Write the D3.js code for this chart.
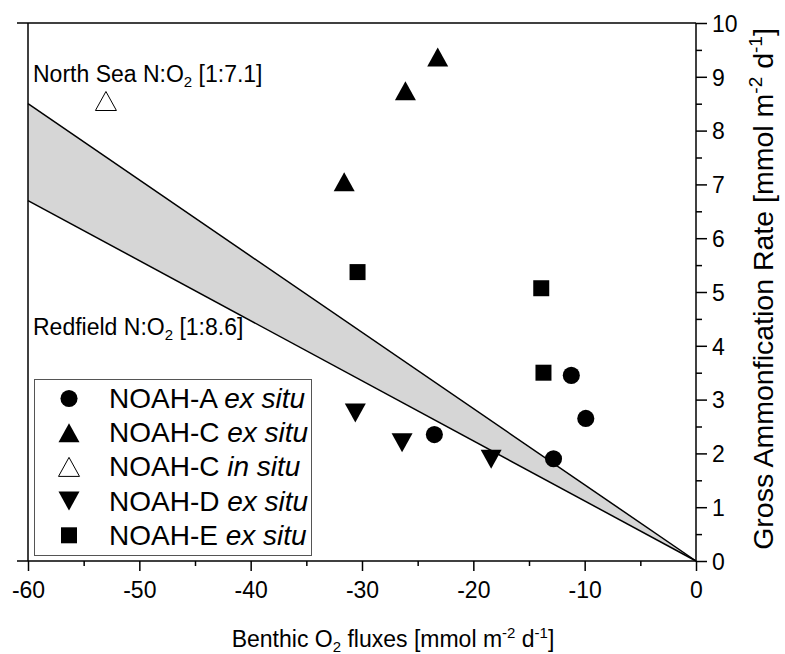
<!DOCTYPE html>
<html>
<head>
<meta charset="utf-8">
<script src="https://d3js.org/d3.v7.min.js"></script>
<style>
  body { margin: 0; background: #fff; }
  svg { display: block; font-family: "Liberation Sans", Arial, sans-serif; }
  .tick text { font-size: 23px; fill: #000; }
</style>
</head>
<body>
<script>
// x: benthic O2 flux, y: gross ammonification rate
var noahA_x = [-23.5, -12.8, -11.2, -9.9];
var noahA_y = [2.35, 1.9, 3.45, 2.65];
var noahCex_x = [-31.6, -26.1, -23.2];
var noahCex_y = [7.05, 8.74, 9.37];
var noahCin_x = [-53.0];
var noahCin_y = [8.55];
var noahD_x = [-30.6, -26.4, -18.4];
var noahD_y = [2.75, 2.2, 1.89];
var noahE_x = [-30.4, -13.9, -13.7];
var noahE_y = [5.37, 5.07, 3.5];

// ratio lines from origin to x = -60
var bandX = [-60, 0];
var northSeaY = [8.5, 0];
var redfieldY = [6.7, 0];

var xTicks = [-60, -50, -40, -30, -20, -10, 0];
var yTicks = [0, 1, 2, 3, 4, 5, 6, 7, 8, 9, 10];

var legendNames = ["NOAH-A", "NOAH-C", "NOAH-C", "NOAH-D", "NOAH-E"];
var legendQual = ["ex situ", "ex situ", "in situ", "ex situ", "ex situ"];
var legendShapes = ["circle", "up", "upOpen", "down", "square"];

(function() {
var W = 785, H = 654;
var pl = 28, pr = 696, pt = 23, pb = 561;

var svg = d3.select("body").append("svg").attr("width", W).attr("height", H);

var x = d3.scaleLinear().domain([-60, 0]).range([pl, pr]);
var y = d3.scaleLinear().domain([0, 10]).range([pb, pt]);

// shaded band between the two ratio lines
var upper = bandX.map(function(v, i) { return [v, northSeaY[i]]; });
var lower = bandX.map(function(v, i) { return [v, redfieldY[i]]; });
var line = d3.line().x(function(p) { return x(p[0]); }).y(function(p) { return y(p[1]); });
svg.append("path")
  .attr("d", line(upper.concat(lower.slice().reverse())) + "Z")
  .attr("fill", "#d6d6d6");
[upper, lower].forEach(function(pts) {
  svg.append("path").attr("d", line(pts)).attr("fill", "none")
    .attr("stroke", "#000").attr("stroke-width", 1.5);
});

// axes
var xAxis = svg.append("g").attr("transform", "translate(0," + pb + ")")
  .call(d3.axisBottom(x).tickValues(xTicks).tickSize(10).tickSizeOuter(0).tickPadding(6)
    .tickFormat(function(d) { return String(d); }));
svg.append("g").attr("transform", "translate(0," + pb + ")")
  .call(d3.axisBottom(x).tickValues(d3.range(-55, 0, 10)).tickSize(5).tickFormat(""));
var yAxis = svg.append("g").attr("transform", "translate(" + pr + ",0)")
  .call(d3.axisRight(y).tickValues(yTicks).tickSize(11).tickSizeOuter(0).tickPadding(5));
svg.append("g").attr("transform", "translate(" + pr + ",0)")
  .call(d3.axisRight(y).tickValues(d3.range(0.5, 10, 1)).tickSize(6).tickFormat(""));
svg.selectAll(".domain").remove();
svg.selectAll(".tick line").attr("stroke", "#000").attr("stroke-width", 1.5);
xAxis.selectAll(".tick text").attr("dy", "0.9em");
yAxis.selectAll(".tick text").attr("dy", "0.36em");

// frame
var frame = [[17, pb, pr, pb], [17, pt, pr, pt], [pl, pt, pl, pb], [pr, pt, pr, pb]];
frame.forEach(function(f) {
  svg.append("line").attr("x1", f[0]).attr("y1", f[1]).attr("x2", f[2]).attr("y2", f[3])
    .attr("stroke", "#000").attr("stroke-width", 1.5);
});

// markers
function shapePath(kind) {
  if (kind === "circle") return d3.symbol().type(d3.symbolCircle).size(230)();
  if (kind === "square") return "M-8,-8H8V8H-8Z";
  if (kind === "down") return "M-10.5,-9.5L10.5,-9.5L0,9.5Z";
  return "M0,-9.5L10.5,9.5L-10.5,9.5Z";
}
function drawMarkers(xs, ys, kind) {
  svg.append("g").selectAll("path")
    .data(xs.map(function(v, i) { return [v, ys[i]]; }))
    .enter().append("path")
    .attr("transform", function(d) { return "translate(" + x(d[0]) + "," + y(d[1]) + ")"; })
    .attr("d", shapePath(kind))
    .attr("fill", kind === "upOpen" ? "#fff" : "#000")
    .attr("stroke", "#000").attr("stroke-width", kind === "upOpen" ? 1 : 0);
}
drawMarkers(noahA_x, noahA_y, "circle");
drawMarkers(noahCex_x, noahCex_y, "up");
drawMarkers(noahCin_x, noahCin_y, "upOpen");
drawMarkers(noahD_x, noahD_y, "down");
drawMarkers(noahE_x, noahE_y, "square");

// annotations
function ratioLabel(tx, ty, name, ratio) {
  var t = svg.append("text").attr("x", tx).attr("y", ty).attr("font-size", 23);
  t.append("tspan").text(name + " N:O");
  t.append("tspan").attr("font-size", 15).attr("dy", 5).text("2");
  t.append("tspan").attr("dy", -5).text(" [" + ratio + "]");
}
ratioLabel(33, 82, "North Sea", "1:7.1");
ratioLabel(33, 335, "Redfield", "1:8.6");

// legend
var lg = svg.append("g");
lg.append("rect").attr("x", 34.5).attr("y", 379.5).attr("width", 277).attr("height", 176)
  .attr("fill", "#fff").attr("stroke", "#555").attr("stroke-width", 1);
legendNames.forEach(function(n, i) {
  var cy = 398.5 + i * 34.2;
  lg.append("path").attr("transform", "translate(69," + cy + ")")
    .attr("d", shapePath(legendShapes[i]))
    .attr("fill", legendShapes[i] === "upOpen" ? "#fff" : "#000")
    .attr("stroke", "#000").attr("stroke-width", legendShapes[i] === "upOpen" ? 1 : 0);
  var t = lg.append("text").attr("x", 109).attr("y", cy + 9.5).attr("font-size", 28);
  t.append("tspan").text(n + " ");
  t.append("tspan").attr("font-style", "italic").text(legendQual[i]);
});

// axis titles
function unitText(t, fs) {
  var ss = Math.round(fs * 0.65), up = Math.round(fs * 0.4);
  t.append("tspan").text(" [mmol m");
  t.append("tspan").attr("font-size", ss).attr("dy", -up).text("-2");
  t.append("tspan").attr("dy", up).text(" d");
  t.append("tspan").attr("font-size", ss).attr("dy", -up).text("-1");
  t.append("tspan").attr("dy", up).text("]");
}
var xt = svg.append("text").attr("x", 393).attr("y", 647).attr("text-anchor", "middle").attr("font-size", 23);
xt.append("tspan").text("Benthic O");
xt.append("tspan").attr("font-size", 15).attr("dy", 5).text("2");
xt.append("tspan").attr("dy", -5).text(" fluxes");
unitText(xt, 23);

var yt = svg.append("text").attr("transform", "translate(773,289) rotate(-90)")
  .attr("text-anchor", "middle").attr("font-size", 28.5);
yt.append("tspan").text("Gross Ammonfication Rate");
unitText(yt, 28.5);
})();
</script>
</body>
</html>
